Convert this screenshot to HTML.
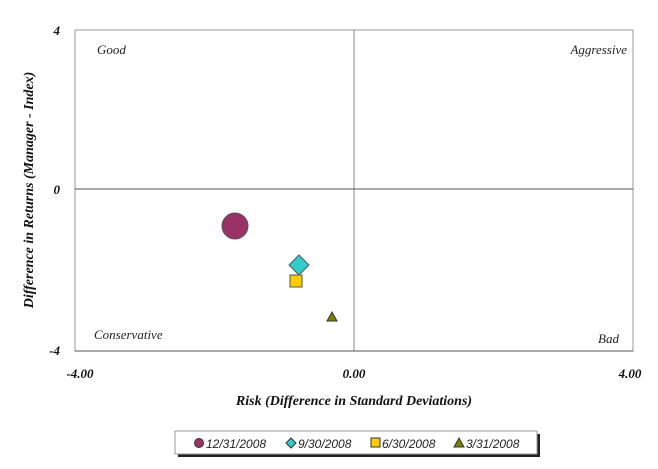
<!DOCTYPE html>
<html><head><style>body{margin:0;background:#fff}</style></head><body>
<svg width="658" height="464" xmlns="http://www.w3.org/2000/svg" font-family="Liberation Serif, serif">
<rect x="0" y="0" width="658" height="464" fill="#fff"/>
<rect x="75" y="30" width="558" height="321" fill="none" stroke="#999" stroke-width="1"/>
<line x1="354" y1="30" x2="354" y2="351" stroke="#888" stroke-width="1"/>
<line x1="75" y1="189" x2="633" y2="189" stroke="#555" stroke-width="1"/>
<line x1="75" y1="351" x2="633" y2="351" stroke="#555" stroke-width="1"/>
<g font-style="italic" font-size="13" fill="#222">
<text x="97" y="54">Good</text>
<text x="627" y="54" text-anchor="end">Aggressive</text>
<text x="94" y="339">Conservative</text>
<text x="619" y="343" text-anchor="end">Bad</text>
</g>
<g font-style="italic" font-weight="bold" font-size="13" fill="#111">
<text x="60" y="35" text-anchor="end">4</text>
<text x="60" y="194" text-anchor="end">0</text>
<text x="60" y="355" text-anchor="end">-4</text>
<text x="80" y="378" text-anchor="middle">-4.00</text>
<text x="354" y="378" text-anchor="middle">0.00</text>
<text x="630" y="378" text-anchor="middle">4.00</text>
<text x="354" y="405" text-anchor="middle" font-size="14">Risk (Difference in Standard Deviations)</text>
<text transform="translate(33,190) rotate(-90)" text-anchor="middle" font-size="14">Difference in Returns (Manager - Index)</text>
</g>
<circle cx="235" cy="226" r="13" fill="#993366" stroke="#555"/>
<polygon points="299,255 309,265 299,275 289,265" fill="#33CCCC" stroke="#555"/>
<rect x="290" y="275" width="12" height="12" fill="#FFCC00" stroke="#555"/>
<polygon points="332,312 337,321 327,321" fill="#808000" stroke="#333"/>
<rect x="178" y="434" width="362" height="23" fill="#222"/>
<rect x="175" y="431" width="362" height="23" fill="#fff" stroke="#999"/>
<g font-family="Liberation Sans, sans-serif" font-style="italic" font-size="12" fill="#222">
<circle cx="199" cy="443" r="4.5" fill="#993366" stroke="#333"/>
<text x="206" y="448">12/31/2008</text>
<polygon points="291,438 296,443 291,448 286,443" fill="#33CCCC" stroke="#333"/>
<text x="298" y="448">9/30/2008</text>
<rect x="371" y="438" width="9" height="9" fill="#FFCC00" stroke="#333"/>
<text x="382" y="448">6/30/2008</text>
<polygon points="459,438 464,447 454,447" fill="#808000" stroke="#333"/>
<text x="466" y="448">3/31/2008</text>
</g>
</svg>
</body></html>
